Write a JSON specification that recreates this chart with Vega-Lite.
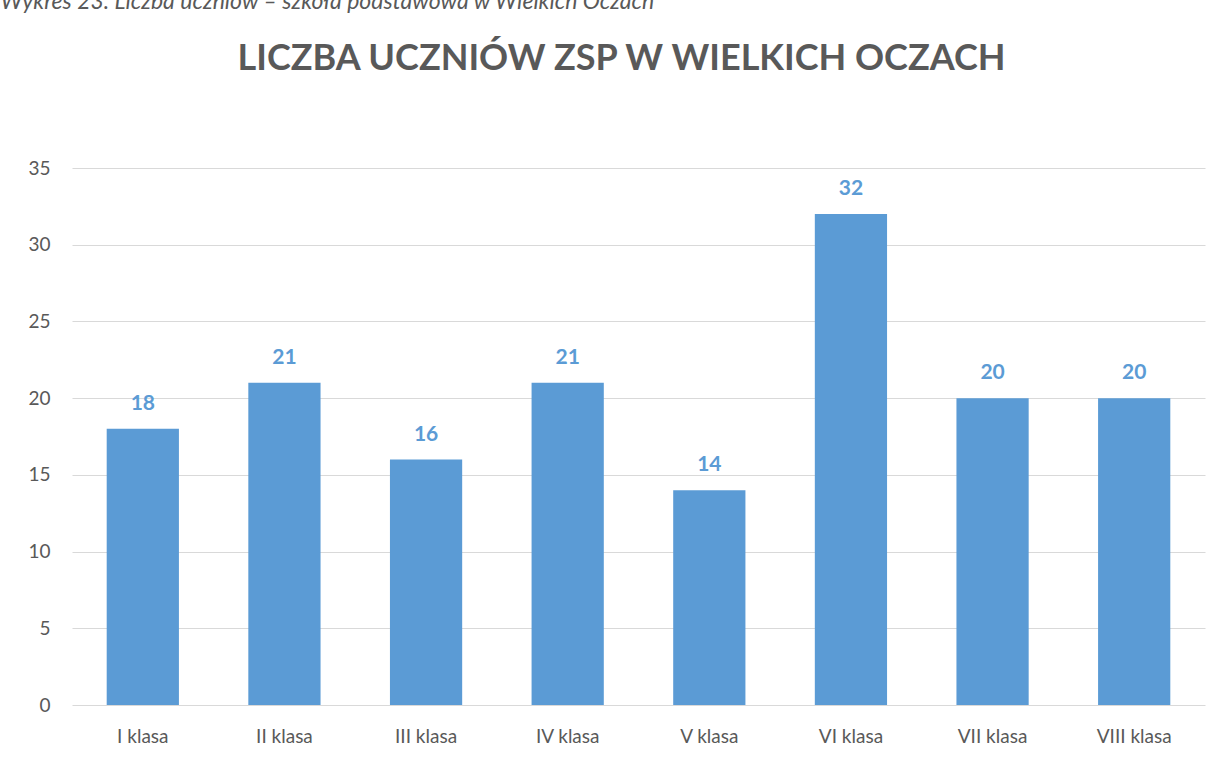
{
  "$schema": "https://vega.github.io/schema/vega-lite/v6.json",
  "autosize": "none",
  "width": 1133,
  "height": 537,
  "padding": {"left": 72, "top": 168, "right": 18, "bottom": 53},
  "background": "white",
  "title": {
    "text": "LICZBA UCZNIÓW ZSP W WIELKICH OCZACH",
    "font": "Lato",
    "fontSize": 36,
    "fontWeight": "bold",
    "color": "#595959",
    "anchor": "middle",
    "frame": "group",
    "dx": -17,
    "offset": -88
  },
  "data": {
    "values": [
      {"klasa": "I klasa", "liczba": 18},
      {"klasa": "II klasa", "liczba": 21},
      {"klasa": "III klasa", "liczba": 16},
      {"klasa": "IV klasa", "liczba": 21},
      {"klasa": "V klasa", "liczba": 14},
      {"klasa": "VI klasa", "liczba": 32},
      {"klasa": "VII klasa", "liczba": 20},
      {"klasa": "VIII klasa", "liczba": 20}
    ]
  },
  "encoding": {
    "x": {
      "field": "klasa", "type": "nominal", "sort": null,
      "scale": {"paddingInner": 0.49, "paddingOuter": 0.245},
      "axis": {"title": null, "labelAngle": 0, "domain": false, "ticks": false, "labelPadding": 22, "labelFontSize": 19, "labelFont": "Lato", "labelColor": "#595959"}
    },
    "y": {
      "field": "liczba", "type": "quantitative",
      "scale": {"domain": [0, 35]},
      "axis": {
        "values": [0, 5, 10, 15, 20, 25, 30, 35],
        "title": "Wykres 23. Liczba uczniów – szkoła podstawowa w Wielkich Oczach",
        "titleAngle": 0, "titleAlign": "left", "titleBaseline": "alphabetic",
        "titleX": -72, "titleY": -160, "titleFont": "Lato", "titleFontSize": 23,
        "titleFontStyle": "italic", "titleFontWeight": "normal", "titleColor": "#595959",
        "domain": false, "ticks": false, "labelPadding": 22, "labelFontSize": 19, "labelFont": "Lato", "labelColor": "#595959",
        "gridColor": "#d9d9d9", "gridWidth": 1
      }
    }
  },
  "layer": [
    {"mark": {"type": "bar", "color": "#5b9bd5"}},
    {
      "mark": {"type": "text", "baseline": "alphabetic", "dy": -19, "font": "Lato", "fontSize": 21, "fontWeight": "bold", "color": "#5b9bd5"},
      "encoding": {"text": {"field": "liczba", "type": "quantitative"}}
    }
  ],
  "config": {"view": {"stroke": null}}
}
